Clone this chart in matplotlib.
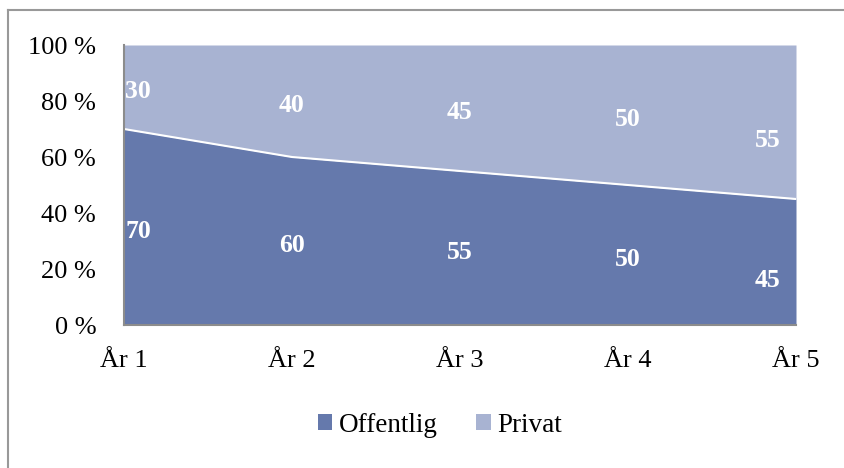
import matplotlib
matplotlib.use("Agg")
import matplotlib.pyplot as plt
import numpy as np
from matplotlib.patches import Patch

categories = ["År 1", "År 2", "År 3", "År 4", "År 5"]
offentlig = [70, 60, 55, 50, 45]
privat = [30, 40, 45, 50, 55]
series_names = ["Offentlig", "Privat"]
y_ticks = [0, 20, 40, 60, 80, 100]
y_tick_labels = ["0 %", "20 %", "40 %", "60 %", "80 %", "100 %"]

c_dark = "#6579ac"
c_light = "#a8b3d2"

plt.rcParams["font.family"] = ["Liberation Serif", "DejaVu Serif"]

fig = plt.figure(figsize=(8.45, 4.68), dpi=100)
ax = fig.add_axes([124/845, 143/468, 672/845, 280/468])

x = np.arange(len(categories))
off = np.array(offentlig, dtype=float)
pri = np.array(privat, dtype=float)
tot = off + pri
off_p = off / tot * 100
pri_p = pri / tot * 100

ax.fill_between(x, 0, off_p, color=c_dark, linewidth=0)
ax.fill_between(x, off_p, off_p + pri_p, color=c_light, linewidth=0)
ax.plot(x, off_p, color="white", linewidth=1.5)

ax.set_xlim(0, len(categories) - 1)
ax.set_ylim(0, 100)
ax.set_yticks(y_ticks)
ax.set_yticklabels(y_tick_labels, fontsize=19)
ax.set_xticks(x)
ax.set_xticklabels(categories, fontsize=19)
ax.tick_params(axis="y", length=0, pad=20)
ax.tick_params(axis="x", length=0, pad=18)

for s in ["top", "right"]:
    ax.spines[s].set_visible(False)
for s in ["left", "bottom"]:
    ax.spines[s].set_color("#8c8c8c")
    ax.spines[s].set_linewidth(1.5)

n = len(categories)
for i in range(n):
    if i == 0:
        ha, dx = "left", 1
    elif i == n - 1:
        ha, dx = "right", -11
    else:
        ha, dx = "center", 0
    dy = -13 if i == n - 1 else -3
    ax.annotate(f"{offentlig[i]}", (x[i], off_p[i] / 2), xytext=(dx, dy),
                textcoords="offset points", ha=ha, va="center",
                color="white", fontsize=18.5, fontweight="bold")
    ax.annotate(f"{privat[i]}", (x[i], off_p[i] + pri_p[i] / 2), xytext=(dx, dy),
                textcoords="offset points", ha=ha, va="center",
                color="white", fontsize=18.5, fontweight="bold")

handles = [Patch(facecolor=c_dark, edgecolor="none"), Patch(facecolor=c_light, edgecolor="none")]
fig.legend(handles, series_names, loc="center", bbox_to_anchor=(440/845, 1 - 425/468),
           ncol=2, frameon=False, fontsize=19.5, handlelength=0.55, handleheight=0.55,
           handletextpad=0.25, columnspacing=1.4)

# outer border (top and left visible)
fig.add_artist(plt.Line2D([8/845, 1], [1 - 10/468, 1 - 10/468], transform=fig.transFigure,
                          color="#999999", linewidth=1.5))
fig.add_artist(plt.Line2D([8/845, 8/845], [0, 1 - 10/468], transform=fig.transFigure,
                          color="#999999", linewidth=1.5))

fig.savefig("out.png", dpi=100)
